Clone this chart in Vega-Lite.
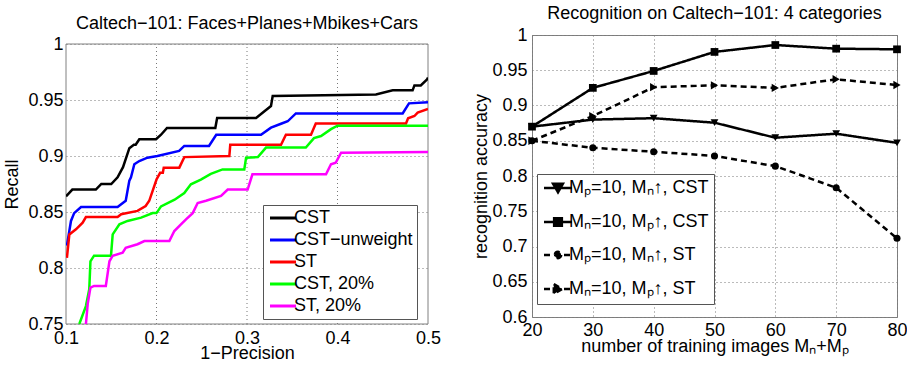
{
  "$schema": "https://vega.github.io/schema/vega-lite/v6.json",
  "padding": {"left": 3, "top": 4, "right": 4, "bottom": 0},
  "spacing": 31,
  "config": {
    "font": "Liberation Sans",
    "view": {"stroke": "#808080", "strokeWidth": 1},
    "axis": {
      "labelFontSize": 18, "titleFontSize": 18, "titleFontWeight": "normal",
      "labelColor": "black", "titleColor": "black", "labelFont": "Liberation Sans", "titleFont": "Liberation Sans",
      "grid": true, "gridDash": [1, 3], "gridColor": "#777", "gridWidth": 1,
      "ticks": false, "domain": false, "labelPadding": 4, "labelFlush": false, "labelOverlap": false
    },
    "title": {"fontSize": 18, "fontWeight": "normal", "color": "black", "font": "Liberation Sans", "anchor": "middle", "offset": 3},
    "legend": {
      "labelFontSize": 18, "labelFont": "Liberation Sans", "labelColor": "black",
      "strokeColor": "#555", "fillColor": "white", "padding": 4, "title": null
    }
  },
  "hconcat": [
    {
      "width": 362, "height": 289,
      "view": {"stroke": null},
      "title": {"text": "Caltech−101: Faces+Planes+Mbikes+Cars", "offset": 2},
      "layer": [
        {
          "data": {"values": [{}]},
          "mark": {"type": "rule", "strokeDash": [1, 3], "color": "#777", "strokeWidth": 1},
          "encoding": {"x": {"datum": 0.2, "type": "quantitative"}, "y": {"datum": 0.75, "type": "quantitative"}, "y2": {"datum": 1}}
        },
        {
          "data": {"values": [{}]},
          "mark": {"type": "rule", "strokeDash": [1, 3], "color": "#777", "strokeWidth": 1},
          "encoding": {"x": {"datum": 0.3, "type": "quantitative"}, "y": {"datum": 0.75, "type": "quantitative"}, "y2": {"datum": 1}}
        },
        {
          "data": {"values": [{}]},
          "mark": {"type": "rule", "strokeDash": [1, 3], "color": "#777", "strokeWidth": 1},
          "encoding": {"x": {"datum": 0.4, "type": "quantitative"}, "y": {"datum": 0.75, "type": "quantitative"}, "y2": {"datum": 1}}
        },
        {
          "data": {"values": [{}]},
          "mark": {"type": "rect", "fillOpacity": 0, "stroke": "#808080", "strokeWidth": 1},
          "encoding": {"x": {"datum": 0.1, "type": "quantitative"}, "x2": {"datum": 0.5}, "y": {"datum": 0.75, "type": "quantitative"}, "y2": {"datum": 1}}
        },
        {
          "data": {"values": [
            {"method": "CST", "p": 0.1, "r": 0.864}, {"method": "CST", "p": 0.107, "r": 0.870}, {"method": "CST", "p": 0.133, "r": 0.870}, {"method": "CST", "p": 0.139, "r": 0.875}, {"method": "CST", "p": 0.150, "r": 0.875}, {"method": "CST", "p": 0.157, "r": 0.881}, {"method": "CST", "p": 0.163, "r": 0.890}, {"method": "CST", "p": 0.170, "r": 0.907}, {"method": "CST", "p": 0.175, "r": 0.910}, {"method": "CST", "p": 0.177, "r": 0.910}, {"method": "CST", "p": 0.181, "r": 0.915}, {"method": "CST", "p": 0.1995, "r": 0.915}, {"method": "CST", "p": 0.205, "r": 0.919}, {"method": "CST", "p": 0.2116, "r": 0.925}, {"method": "CST", "p": 0.265, "r": 0.925}, {"method": "CST", "p": 0.267, "r": 0.934}, {"method": "CST", "p": 0.31, "r": 0.934}, {"method": "CST", "p": 0.3265, "r": 0.9446}, {"method": "CST", "p": 0.3284, "r": 0.9536}, {"method": "CST", "p": 0.4425, "r": 0.955}, {"method": "CST", "p": 0.461, "r": 0.9586}, {"method": "CST", "p": 0.483, "r": 0.9586}, {"method": "CST", "p": 0.485, "r": 0.963}, {"method": "CST", "p": 0.492, "r": 0.963}, {"method": "CST", "p": 0.499, "r": 0.9685}, {"method": "CST", "p": 0.5, "r": 0.97},
            {"method": "CST−unweight", "p": 0.101, "r": 0.82}, {"method": "CST−unweight", "p": 0.1055, "r": 0.842}, {"method": "CST−unweight", "p": 0.109, "r": 0.849}, {"method": "CST−unweight", "p": 0.1166, "r": 0.8545}, {"method": "CST−unweight", "p": 0.157, "r": 0.8545}, {"method": "CST−unweight", "p": 0.166, "r": 0.86}, {"method": "CST−unweight", "p": 0.170, "r": 0.878}, {"method": "CST−unweight", "p": 0.1718, "r": 0.881}, {"method": "CST−unweight", "p": 0.1755, "r": 0.8926}, {"method": "CST−unweight", "p": 0.181, "r": 0.8955}, {"method": "CST−unweight", "p": 0.19, "r": 0.8985}, {"method": "CST−unweight", "p": 0.201, "r": 0.900}, {"method": "CST−unweight", "p": 0.225, "r": 0.9045}, {"method": "CST−unweight", "p": 0.2307, "r": 0.909}, {"method": "CST−unweight", "p": 0.258, "r": 0.909}, {"method": "CST−unweight", "p": 0.266, "r": 0.919}, {"method": "CST−unweight", "p": 0.3155, "r": 0.919}, {"method": "CST−unweight", "p": 0.3265, "r": 0.9253}, {"method": "CST−unweight", "p": 0.3376, "r": 0.9288}, {"method": "CST−unweight", "p": 0.345, "r": 0.931}, {"method": "CST−unweight", "p": 0.354, "r": 0.938}, {"method": "CST−unweight", "p": 0.472, "r": 0.938}, {"method": "CST−unweight", "p": 0.479, "r": 0.947}, {"method": "CST−unweight", "p": 0.5, "r": 0.948},
            {"method": "ST", "p": 0.101, "r": 0.809}, {"method": "ST", "p": 0.1037, "r": 0.830}, {"method": "ST", "p": 0.111, "r": 0.8345}, {"method": "ST", "p": 0.1184, "r": 0.8405}, {"method": "ST", "p": 0.122, "r": 0.8455}, {"method": "ST", "p": 0.157, "r": 0.8455}, {"method": "ST", "p": 0.161, "r": 0.848}, {"method": "ST", "p": 0.179, "r": 0.851}, {"method": "ST", "p": 0.188, "r": 0.8554}, {"method": "ST", "p": 0.192, "r": 0.86}, {"method": "ST", "p": 0.2, "r": 0.879}, {"method": "ST", "p": 0.204, "r": 0.885}, {"method": "ST", "p": 0.207, "r": 0.885}, {"method": "ST", "p": 0.208, "r": 0.8896}, {"method": "ST", "p": 0.2252, "r": 0.8896}, {"method": "ST", "p": 0.2307, "r": 0.899}, {"method": "ST", "p": 0.2805, "r": 0.900}, {"method": "ST", "p": 0.2815, "r": 0.910}, {"method": "ST", "p": 0.3376, "r": 0.910}, {"method": "ST", "p": 0.343, "r": 0.919}, {"method": "ST", "p": 0.3707, "r": 0.919}, {"method": "ST", "p": 0.376, "r": 0.929}, {"method": "ST", "p": 0.4757, "r": 0.929}, {"method": "ST", "p": 0.478, "r": 0.9337}, {"method": "ST", "p": 0.485, "r": 0.9357}, {"method": "ST", "p": 0.4886, "r": 0.9387}, {"method": "ST", "p": 0.5, "r": 0.942},
            {"method": "CST, 20%", "p": 0.1147, "r": 0.75}, {"method": "CST, 20%", "p": 0.122, "r": 0.766}, {"method": "CST, 20%", "p": 0.1257, "r": 0.781}, {"method": "CST, 20%", "p": 0.127, "r": 0.806}, {"method": "CST, 20%", "p": 0.131, "r": 0.811}, {"method": "CST, 20%", "p": 0.1497, "r": 0.811}, {"method": "CST, 20%", "p": 0.1516, "r": 0.830}, {"method": "CST, 20%", "p": 0.159, "r": 0.839}, {"method": "CST, 20%", "p": 0.168, "r": 0.842}, {"method": "CST, 20%", "p": 0.183, "r": 0.845}, {"method": "CST, 20%", "p": 0.1958, "r": 0.849}, {"method": "CST, 20%", "p": 0.2, "r": 0.849}, {"method": "CST, 20%", "p": 0.205, "r": 0.855}, {"method": "CST, 20%", "p": 0.22, "r": 0.861}, {"method": "CST, 20%", "p": 0.2307, "r": 0.867}, {"method": "CST, 20%", "p": 0.238, "r": 0.8747}, {"method": "CST, 20%", "p": 0.249, "r": 0.879}, {"method": "CST, 20%", "p": 0.26, "r": 0.884}, {"method": "CST, 20%", "p": 0.273, "r": 0.888}, {"method": "CST, 20%", "p": 0.297, "r": 0.888}, {"method": "CST, 20%", "p": 0.299, "r": 0.8985}, {"method": "CST, 20%", "p": 0.312, "r": 0.899}, {"method": "CST, 20%", "p": 0.321, "r": 0.9075}, {"method": "CST, 20%", "p": 0.365, "r": 0.9075}, {"method": "CST, 20%", "p": 0.374, "r": 0.916}, {"method": "CST, 20%", "p": 0.3818, "r": 0.9178}, {"method": "CST, 20%", "p": 0.3928, "r": 0.924}, {"method": "CST, 20%", "p": 0.40, "r": 0.927}, {"method": "CST, 20%", "p": 0.5, "r": 0.927},
            {"method": "ST, 20%", "p": 0.122, "r": 0.75}, {"method": "ST, 20%", "p": 0.124, "r": 0.768}, {"method": "ST, 20%", "p": 0.127, "r": 0.7825}, {"method": "ST, 20%", "p": 0.131, "r": 0.784}, {"method": "ST, 20%", "p": 0.144, "r": 0.784}, {"method": "ST, 20%", "p": 0.148, "r": 0.806}, {"method": "ST, 20%", "p": 0.1516, "r": 0.811}, {"method": "ST, 20%", "p": 0.1626, "r": 0.8137}, {"method": "ST, 20%", "p": 0.166, "r": 0.818}, {"method": "ST, 20%", "p": 0.179, "r": 0.8212}, {"method": "ST, 20%", "p": 0.1866, "r": 0.824}, {"method": "ST, 20%", "p": 0.2142, "r": 0.824}, {"method": "ST, 20%", "p": 0.2197, "r": 0.833}, {"method": "ST, 20%", "p": 0.227, "r": 0.839}, {"method": "ST, 20%", "p": 0.2326, "r": 0.8435}, {"method": "ST, 20%", "p": 0.24, "r": 0.849}, {"method": "ST, 20%", "p": 0.2455, "r": 0.858}, {"method": "ST, 20%", "p": 0.2547, "r": 0.86}, {"method": "ST, 20%", "p": 0.2713, "r": 0.8643}, {"method": "ST, 20%", "p": 0.2787, "r": 0.870}, {"method": "ST, 20%", "p": 0.3007, "r": 0.870}, {"method": "ST, 20%", "p": 0.306, "r": 0.8836}, {"method": "ST, 20%", "p": 0.3873, "r": 0.8836}, {"method": "ST, 20%", "p": 0.3928, "r": 0.8926}, {"method": "ST, 20%", "p": 0.398, "r": 0.894}, {"method": "ST, 20%", "p": 0.404, "r": 0.903}, {"method": "ST, 20%", "p": 0.5, "r": 0.9036}
          ]},
          "mark": {"type": "line", "strokeWidth": 2.5, "clip": true},
          "encoding": {
            "x": {"field": "p", "type": "quantitative", "scale": {"domain": [0.1, 0.5], "nice": false, "zero": false},
                  "axis": {"title": "1−Precision", "grid": false, "values": [0.1, 0.2, 0.3, 0.4, 0.5], "format": "~g", "labelPadding": 5, "titlePadding": -3}},
            "y": {"field": "r", "type": "quantitative", "scale": {"domain": [0.75, 1], "range": [289, 9], "nice": false, "zero": false},
                  "axis": {"title": "Recall", "values": [0.75, 0.8, 0.85, 0.9, 0.95, 1], "format": "~g", "labelPadding": 3, "titlePadding": 6}},
            "color": {"field": "method", "type": "nominal",
                      "scale": {"domain": ["CST", "CST−unweight", "ST", "CST, 20%", "ST, 20%"], "range": ["#000000", "#0000ff", "#ff0000", "#00ff00", "#ff00ff"]},
                      "legend": {"orient": "none", "legendX": 197, "legendY": 170, "symbolType": "M-2,0H2", "symbolSize": 169, "symbolOffset": 7, "symbolStrokeWidth": 3, "rowPadding": 4, "labelOffset": 2}}
          }
        }
      ]
    },
    {
      "width": 365, "height": 282,
      "title": {"text": "Recognition on Caltech−101: 4 categories", "offset": 3},
      "data": {"values": [
        {"s": "Mₚ=10, Mₙ↑, CST", "n": 20, "acc": 0.87}, {"s": "Mₚ=10, Mₙ↑, CST", "n": 30, "acc": 0.880}, {"s": "Mₚ=10, Mₙ↑, CST", "n": 40, "acc": 0.882}, {"s": "Mₚ=10, Mₙ↑, CST", "n": 50, "acc": 0.8756}, {"s": "Mₚ=10, Mₙ↑, CST", "n": 60, "acc": 0.8543}, {"s": "Mₚ=10, Mₙ↑, CST", "n": 70, "acc": 0.86}, {"s": "Mₚ=10, Mₙ↑, CST", "n": 80, "acc": 0.847},
        {"s": "Mₙ=10, Mₚ↑, CST", "n": 20, "acc": 0.87}, {"s": "Mₙ=10, Mₚ↑, CST", "n": 30, "acc": 0.925}, {"s": "Mₙ=10, Mₚ↑, CST", "n": 40, "acc": 0.949}, {"s": "Mₙ=10, Mₚ↑, CST", "n": 50, "acc": 0.976}, {"s": "Mₙ=10, Mₚ↑, CST", "n": 60, "acc": 0.9858}, {"s": "Mₙ=10, Mₚ↑, CST", "n": 70, "acc": 0.9806}, {"s": "Mₙ=10, Mₚ↑, CST", "n": 80, "acc": 0.9797},
        {"s": "Mₚ=10, Mₙ↑, ST", "n": 20, "acc": 0.85}, {"s": "Mₚ=10, Mₙ↑, ST", "n": 30, "acc": 0.840}, {"s": "Mₚ=10, Mₙ↑, ST", "n": 40, "acc": 0.8345}, {"s": "Mₚ=10, Mₙ↑, ST", "n": 50, "acc": 0.8284}, {"s": "Mₚ=10, Mₙ↑, ST", "n": 60, "acc": 0.814}, {"s": "Mₚ=10, Mₙ↑, ST", "n": 70, "acc": 0.7834}, {"s": "Mₚ=10, Mₙ↑, ST", "n": 80, "acc": 0.7116},
        {"s": "Mₙ=10, Mₚ↑, ST", "n": 20, "acc": 0.85}, {"s": "Mₙ=10, Mₚ↑, ST", "n": 30, "acc": 0.885}, {"s": "Mₙ=10, Mₚ↑, ST", "n": 40, "acc": 0.926}, {"s": "Mₙ=10, Mₚ↑, ST", "n": 50, "acc": 0.9286}, {"s": "Mₙ=10, Mₚ↑, ST", "n": 60, "acc": 0.925}, {"s": "Mₙ=10, Mₚ↑, ST", "n": 70, "acc": 0.9372}, {"s": "Mₙ=10, Mₚ↑, ST", "n": 80, "acc": 0.929}
      ]},
      "encoding": {
        "x": {"field": "n", "type": "quantitative", "scale": {"domain": [20, 80], "nice": false, "zero": false},
              "axis": {"title": "number of training images Mₙ+Mₚ", "values": [20, 30, 40, 50, 60, 70, 80], "labelPadding": 4, "titlePadding": -2}},
        "y": {"field": "acc", "type": "quantitative", "scale": {"domain": [0.6, 1], "nice": false, "zero": false},
              "axis": {"title": "recognition accuracy", "values": [0.6, 0.65, 0.7, 0.75, 0.8, 0.85, 0.9, 0.95, 1], "format": "~g", "labelPadding": 5, "titlePadding": 1}}
      },
      "layer": [
        {
          "mark": {"type": "line", "strokeWidth": 2.5, "color": "black"},
          "encoding": {
            "strokeDash": {"field": "s", "type": "nominal",
              "scale": {"domain": ["Mₚ=10, Mₙ↑, CST", "Mₙ=10, Mₚ↑, CST", "Mₚ=10, Mₙ↑, ST", "Mₙ=10, Mₚ↑, ST"], "range": [[1, 0], [1, 0], [6, 4], [6, 4]]},
              "legend": {"orient": "none", "legendX": 471, "legendY": 139, "padding": 5, "symbolSize": 196, "symbolOffset": 7, "symbolStrokeWidth": 2.5, "symbolFillColor": "black", "symbolStrokeColor": "black", "rowPadding": 15, "labelOffset": 2,
                "encode": {"symbols": {"update": {
                  "shape": {"signal": "['M-2,0H2M-0.7,-0.6H0.7L0,0.6Z','M-2,0H2M-0.55,-0.55H0.55V0.55H-0.55Z','M-2,0H2M0.45,0A0.45,0.45,0,1,1,-0.45,0A0.45,0.45,0,1,1,0.45,0Z','M-2,0H2M-0.6,-0.7L0.6,0L-0.6,0.7Z'][datum.index]"},
                  "fill": {"value": "black"}, "fillOpacity": {"value": 1}, "stroke": {"value": "black"}
                }}}}}
          }
        },
        {
          "transform": [{"filter": "datum.s == 'Mₚ=10, Mₙ↑, CST'"}],
          "mark": {"type": "point", "filled": true, "color": "black", "opacity": 1, "size": 60, "shape": "triangle-down"}
        },
        {
          "transform": [{"filter": "datum.s == 'Mₙ=10, Mₚ↑, CST'"}],
          "mark": {"type": "point", "filled": true, "color": "black", "opacity": 1, "size": 60, "shape": "square"}
        },
        {
          "transform": [{"filter": "datum.s == 'Mₚ=10, Mₙ↑, ST'"}],
          "mark": {"type": "point", "filled": true, "color": "black", "opacity": 1, "size": 50, "shape": "circle"}
        },
        {
          "transform": [{"filter": "datum.s == 'Mₙ=10, Mₚ↑, ST'"}],
          "mark": {"type": "point", "filled": true, "color": "black", "opacity": 1, "size": 70, "shape": "triangle-right"}
        }
      ]
    }
  ]
}
